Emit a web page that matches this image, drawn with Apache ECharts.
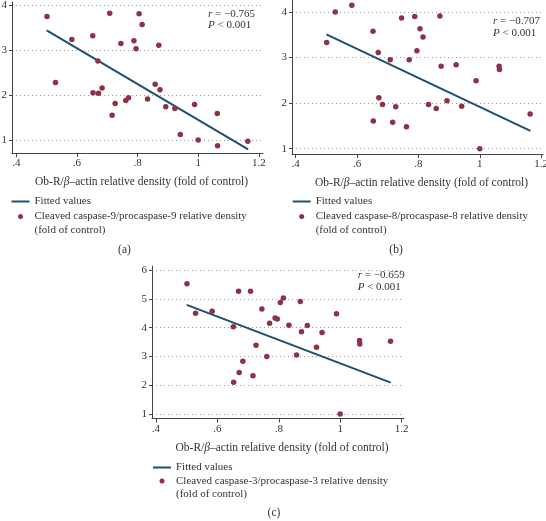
<!DOCTYPE html>
<html>
<head>
<meta charset="utf-8">
<script src="https://cdn.jsdelivr.net/npm/echarts@6/dist/echarts.min.js"></script>
<style>
html,body{margin:0;padding:0;background:#fff;}
#chart{width:546px;height:521px;}
</style>
</head>
<body>
<div id="chart"></div>
<script>
// Shared x values: Ob-R/beta-actin relative density
const xObR = [0.501, 0.529, 0.583, 0.652, 0.653, 0.669, 0.671, 0.683, 0.708, 0.716,
              0.726, 0.745, 0.761, 0.770, 0.788, 0.795, 0.805, 0.815, 0.833, 0.858,
              0.870, 0.874, 0.893, 0.923, 0.941, 0.988, 1.000, 1.063, 1.064, 1.164];
// (a) cleaved caspase-9 / procaspase-9
const yCasp9 = [3.75, 2.28, 3.24, 3.32, 2.05, 2.76, 2.04, 2.16, 3.82, 1.55,
                1.81, 3.15, 1.88, 1.94, 3.21, 3.03, 3.81, 3.57, 1.91, 2.24,
                3.11, 2.12, 1.74, 1.70, 1.12, 1.79, 1.00, 1.59, 0.87, 0.97];
// (b) cleaved caspase-8 / procaspase-8
const yCasp8 = [3.33, 4.00, 4.15, 3.58, 1.61, 3.11, 2.12, 1.97, 2.95, 1.58,
                1.92, 3.87, 1.48, 2.95, 3.90, 3.15, 3.63, 3.45, 1.97, 1.88,
                3.91, 2.81, 2.05, 2.84, 1.93, 2.49, 1.00, 2.81, 2.74, 1.76];
// (c) cleaved caspase-3 / procaspase-3
const yCasp3 = [5.52, 4.50, 4.57, 4.03, 2.10, 5.26, 2.44, 2.83, 5.26, 2.33,
                3.39, 4.65, 3.00, 4.15, 4.33, 4.30, 4.87, 5.03, 4.08, 3.05,
                4.91, 3.86, 4.07, 3.32, 3.83, 4.48, 1.00, 3.55, 3.43, 3.53];
// Fitted line end points
const fitX = [0.50, 1.165];
const fit9 = [3.44, 0.79];
const fit8 = [3.51, 1.39];
const fit3 = [4.79, 2.09];
// Tick labels
const xTicks = [0.4, 0.6, 0.8, 1.0, 1.2];
const yTicksAB = [1, 2, 3, 4];
const yTicksC = [1, 2, 3, 4, 5, 6];
// Texts
const stat9 = ['−0.765', '0.001'];
const stat8 = ['−0.707', '0.001'];
const stat3 = ['−0.659', '0.001'];
const nameFit = 'Fitted values';
const name9 = 'Cleaved caspase-9/procaspase-9 relative density\n(fold of control)';
const name8 = 'Cleaved caspase-8/procaspase-8 relative density\n(fold of control)';
const name3 = 'Cleaved caspase-3/procaspase-3 relative density\n(fold of control)';
const xTitle = 'Ob-R/{i|β}–actin relative density (fold of control)';

const FONT = '"Liberation Serif", "DejaVu Serif", serif';
const TXT = '#333';
const AX = '#444';
const DOT = '#8c3242';
const LINE = '#1d4e74';

function xAxisFor(g, min, max) {
  return {
    type: 'value', gridIndex: g, min: min, max: max,
    name: xTitle, nameLocation: 'middle', nameGap: 23,
    nameTextStyle: { fontFamily: FONT, fontSize: 11.5, color: TXT, padding: [0, 0, 0, 8],
      rich: { i: { fontStyle: 'italic', fontFamily: FONT, fontSize: 11.5, color: TXT } } },
    axisLine: { show: true, lineStyle: { color: AX, width: 1 } },
    axisTick: { show: true, length: 4, lineStyle: { color: AX }, customValues: xTicks },
    axisLabel: { show: true, customValues: xTicks, margin: 5, fontFamily: FONT, fontSize: 11, color: TXT,
      formatter: v => String(Math.round(v * 10) / 10).replace(/^0\./, '.') },
    splitLine: { show: false }
  };
}
function yAxisFor(g, min, max, ticks) {
  return {
    type: 'value', gridIndex: g, min: min, max: max,
    axisLine: { show: true, lineStyle: { color: AX, width: 1 } },
    axisTick: { show: true, length: 3, lineStyle: { color: AX }, customValues: ticks },
    axisLabel: { show: true, customValues: ticks, margin: 5, fontFamily: FONT, fontSize: 11, color: TXT },
    splitLine: { show: true, lineStyle: { color: '#9a9a9a', type: [1, 3], width: 1 } }
  };
}
function pts(ys) { return xObR.map((x, i) => [x, ys[i]]); }
function fit(ys) { return fitX.map((x, i) => [x, ys[i]]); }

function statTitle(left, top, s) {
  return {
    left: left, top: top, padding: 0,
    text: '{i|r} = ' + s[0] + '\n{i|P} < ' + s[1],
    textStyle: { fontFamily: FONT, fontSize: 11, fontWeight: 'normal', color: TXT, lineHeight: 11.5,
      rich: { i: { fontStyle: 'italic', fontFamily: FONT, fontSize: 11, color: TXT, lineHeight: 11.5 } } }
  };
}
function panelTitle(cx, cy, t) {
  return { text: t, left: cx, top: cy - 7, padding: 0, textAlign: 'center',
    textStyle: { fontFamily: FONT, fontSize: 11.5, fontWeight: 'normal', color: TXT, lineHeight: 14 } };
}
const LH = 13.5;
function lineLegend(left, cy) {
  return { data: [{ name: nameFit, icon: 'path://M0,0H18V2H0Z' }], orient: 'vertical',
    left: left, top: cy - LH / 2, padding: 0,
    itemWidth: 18, itemHeight: 5, selectedMode: false,
    textStyle: { fontFamily: FONT, fontSize: 11, color: TXT, lineHeight: LH } };
}
function dotLegend(left, cy, name) {
  return { data: [{ name: name, icon: 'circle' }], orient: 'vertical',
    left: left, top: cy - (3 * LH) / 2, padding: 0,
    itemWidth: 18, itemHeight: 5, selectedMode: false,
    formatter: n => '\n' + n,
    textStyle: { fontFamily: FONT, fontSize: 11, color: TXT, lineHeight: LH } };
}

function lineSeries(g, data) {
  return { name: nameFit, type: 'line', xAxisIndex: g, yAxisIndex: g, data: data,
    symbol: 'none', lineStyle: { color: LINE, width: 2 }, itemStyle: { color: LINE }, z: 2, silent: true };
}
function dotSeries(g, name, data) {
  return { name: name, type: 'scatter', xAxisIndex: g, yAxisIndex: g, data: data,
    symbol: 'circle', symbolSize: 5.5, itemStyle: { color: DOT, opacity: 1 }, z: 3, silent: true };
}

const option = {
  animation: false,
  backgroundColor: '#fff',
  grid: [
    { left: 12, top: 2, width: 251, height: 151, outerBoundsMode: 'none' },
    { left: 292, top: 0, width: 251, height: 154, outerBoundsMode: 'none' },
    { left: 152, top: 266, width: 252, height: 152.5, outerBoundsMode: 'none' }
  ],
  xAxis: [
    xAxisFor(0, 0.3855, 1.214),
    xAxisFor(1, 0.388, 1.206),
    xAxisFor(2, 0.387, 1.208)
  ],
  yAxis: [
    yAxisFor(0, 0.71, 4.073, yTicksAB),
    yAxisFor(1, 0.884, 4.263, yTicksAB),
    yAxisFor(2, 0.844, 6.14, yTicksC)
  ],
  title: [
    statTitle(208, 8.25, stat9),
    statTitle(493, 15.75, stat8),
    statTitle(357.7, 269.75, stat3),
    panelTitle(124.5, 249.5, '(a)'),
    panelTitle(396, 249.5, '(b)'),
    panelTitle(274, 513, '(c)')
  ],
  legend: [
    lineLegend(11.5, 201.5),
    dotLegend(18, 216.5, name9),
    lineLegend(292.7, 201.5),
    dotLegend(299.2, 216.5, name8),
    lineLegend(153, 467.5),
    dotLegend(159.5, 481, name3)
  ],
  series: [
    lineSeries(0, fit(fit9)), dotSeries(0, name9, pts(yCasp9)),
    lineSeries(1, fit(fit8)), dotSeries(1, name8, pts(yCasp8)),
    lineSeries(2, fit(fit3)), dotSeries(2, name3, pts(yCasp3))
  ]
};

const chart = echarts.init(document.getElementById('chart'), null, { renderer: 'canvas' });
chart.setOption(option);
</script>
</body>
</html>
